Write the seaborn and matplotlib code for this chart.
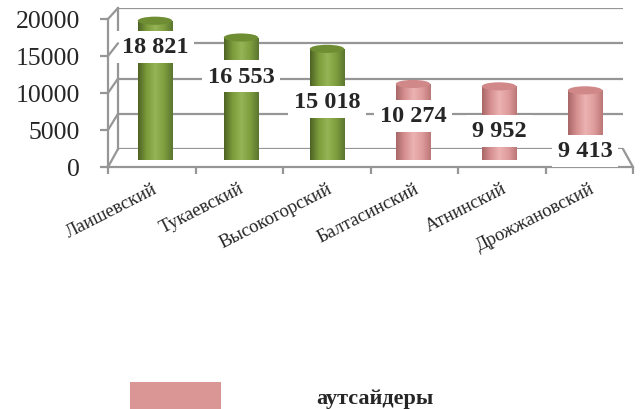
import matplotlib
matplotlib.use("Agg")
import matplotlib.pyplot as plt
import numpy as np
import pandas as pd
import seaborn as sns
from matplotlib.patches import Ellipse, ConnectionPatch, Patch
from matplotlib.colors import LinearSegmentedColormap

sns.set_style("white")
plt.rcParams['font.family'] = ['Liberation Serif', 'DejaVu Serif']

districts = ['Лаишевский', 'Тукаевский', 'Высокогорский',
             'Балтасинский', 'Атнинский', 'Дрожжановский']
population = [18821, 16553, 15018, 10274, 9952, 9413]
groups = ['лидеры', 'лидеры', 'лидеры', 'аутсайдеры', 'аутсайдеры', 'аутсайдеры']
yticks = [0, 5000, 10000, 15000, 20000]

# where Excel put the value labels (data units)
label_y = [15300, 11350, 7840, 5950, 3920, 1220]

df = pd.DataFrame({'district': districts, 'value': population, 'group': groups})

green = '#7a9a3a'
pink = '#d99694'
palette = {'лидеры': green, 'аутсайдеры': pink}
cmaps = {
    'лидеры': LinearSegmentedColormap.from_list(
        'g', ['#4d6224', '#7c9c3c', '#94b455', '#7f9e3e', '#5a7530']),
    'аутсайдеры': LinearSegmentedColormap.from_list(
        'p', ['#a86666', '#d69090', '#ecb2b2', '#df9c9c', '#bb7676']),
}
tops = {'лидеры': '#6f8d33', 'аутсайдеры': '#d08888'}
grid_c = '#969696'

W, H = 640, 410
fig = plt.figure(figsize=(6.4, 4.1), dpi=100)


def box(l, r, b0, t20):
    return [l / W, 1 - b0 / H, (r - l) / W, (b0 - t20) / H]


# back wall with gridlines
ax_back = fig.add_axes(box(118, 623, 150, 9))
ax_back.set_xlim(-0.5, 5.5)
ax_back.set_ylim(0, 20000)
ax_back.set_yticks(yticks)
ax_back.set_xticks([])
ax_back.tick_params(left=False, labelleft=False)
ax_back.grid(axis='y', color=grid_c, lw=1.6)
for s in ['top', 'right', 'bottom']:
    ax_back.spines[s].set_visible(False)
ax_back.spines['left'].set_color(grid_c)
ax_back.spines['left'].set_linewidth(1.6)
ax_back.patch.set_alpha(0)

# front axis with tick labels
ax_front = fig.add_axes(box(108, 633, 168, 20))
ax_front.set_xlim(-0.5, 5.5)
ax_front.set_ylim(0, 20000)
ax_front.patch.set_alpha(0)
for s in ['top', 'right']:
    ax_front.spines[s].set_visible(False)
for s in ['left', 'bottom']:
    ax_front.spines[s].set_color(grid_c)
    ax_front.spines[s].set_linewidth(1.6)
ax_front.set_yticks(yticks)
ax_front.set_yticklabels([str(v) for v in yticks], fontsize=18.5)
ax_front.tick_params(axis='y', direction='out', length=6, width=1.6,
                     color=grid_c, pad=14, left=True)
ax_front.set_xticks(np.arange(-0.5, 6, 1))
ax_front.set_xticklabels([])
ax_front.set_xticks(np.arange(6), minor=True)
ax_front.set_xticklabels(districts, minor=True, rotation=27, ha='right',
                         va='top', rotation_mode='anchor', fontsize=13.5)
ax_front.tick_params(axis='x', which='major', direction='out', length=5,
                     width=1.6, color=grid_c, bottom=True)
ax_front.tick_params(axis='x', which='minor', length=0, pad=9)

# side wall / floor edges
for v in yticks:
    fig.add_artist(ConnectionPatch((-0.5, v), (-0.5, v), coordsA=ax_front.transData,
                                   coordsB=ax_back.transData, color=grid_c, lw=1.6))
fig.add_artist(ConnectionPatch((5.5, 0), (5.5, 0), coordsA=ax_back.transData,
                               coordsB=ax_front.transData, color=grid_c, lw=1.6))

# cylinders
ax = fig.add_axes(box(112, 628, 161, 13))
sns.barplot(data=df, x='district', y='value', hue='group', palette=palette,
            dodge=False, width=0.4, legend=False, ax=ax, order=districts)
ax.set_xlim(-0.5, 5.5)
ax.set_ylim(0, 20000)
ax.axis('off')

eh = 1100
grad = np.linspace(0, 1, 256).reshape(1, -1)
bars = sorted(ax.patches, key=lambda p: p.get_x())
for i, bar in enumerate(bars):
    g = groups[i]
    x0, w, h = bar.get_x(), bar.get_width(), bar.get_height()
    bar.set_visible(False)
    body = plt.Rectangle((x0, 0), w, h, transform=ax.transData)
    bottom = Ellipse((x0 + w / 2, 0), w, eh, transform=ax.transData)
    for clip in (body, bottom):
        im = ax.imshow(grad, cmap=cmaps[g], aspect='auto', zorder=2,
                       extent=(x0, x0 + w, -eh, h), origin='lower')
        im.set_clip_path(clip)
    ax.add_patch(Ellipse((x0 + w / 2, h), w, eh, facecolor=tops[g],
                         edgecolor='none', zorder=3))
    ax.text(i, label_y[i], f"{population[i]:,}".replace(',', ' '),
            ha='center', va='center', fontsize=17.5, fontweight='bold',
            zorder=5, bbox=dict(boxstyle='square,pad=0.22', fc='white', ec='none'))
ax.set_xlim(-0.5, 5.5)
ax.set_ylim(0, 20000)

fig.legend(handles=[Patch(facecolor=pink, edgecolor='none', label='аутсайдеры')],
           loc='center left', bbox_to_anchor=(130 / W, 1 - 397 / H),
           frameon=False, borderpad=0, borderaxespad=0, handlelength=4.1,
           handleheight=1.5, handletextpad=4.3,
           prop={'size': 16, 'weight': 'bold'})

fig.savefig('out.png', dpi=100)
